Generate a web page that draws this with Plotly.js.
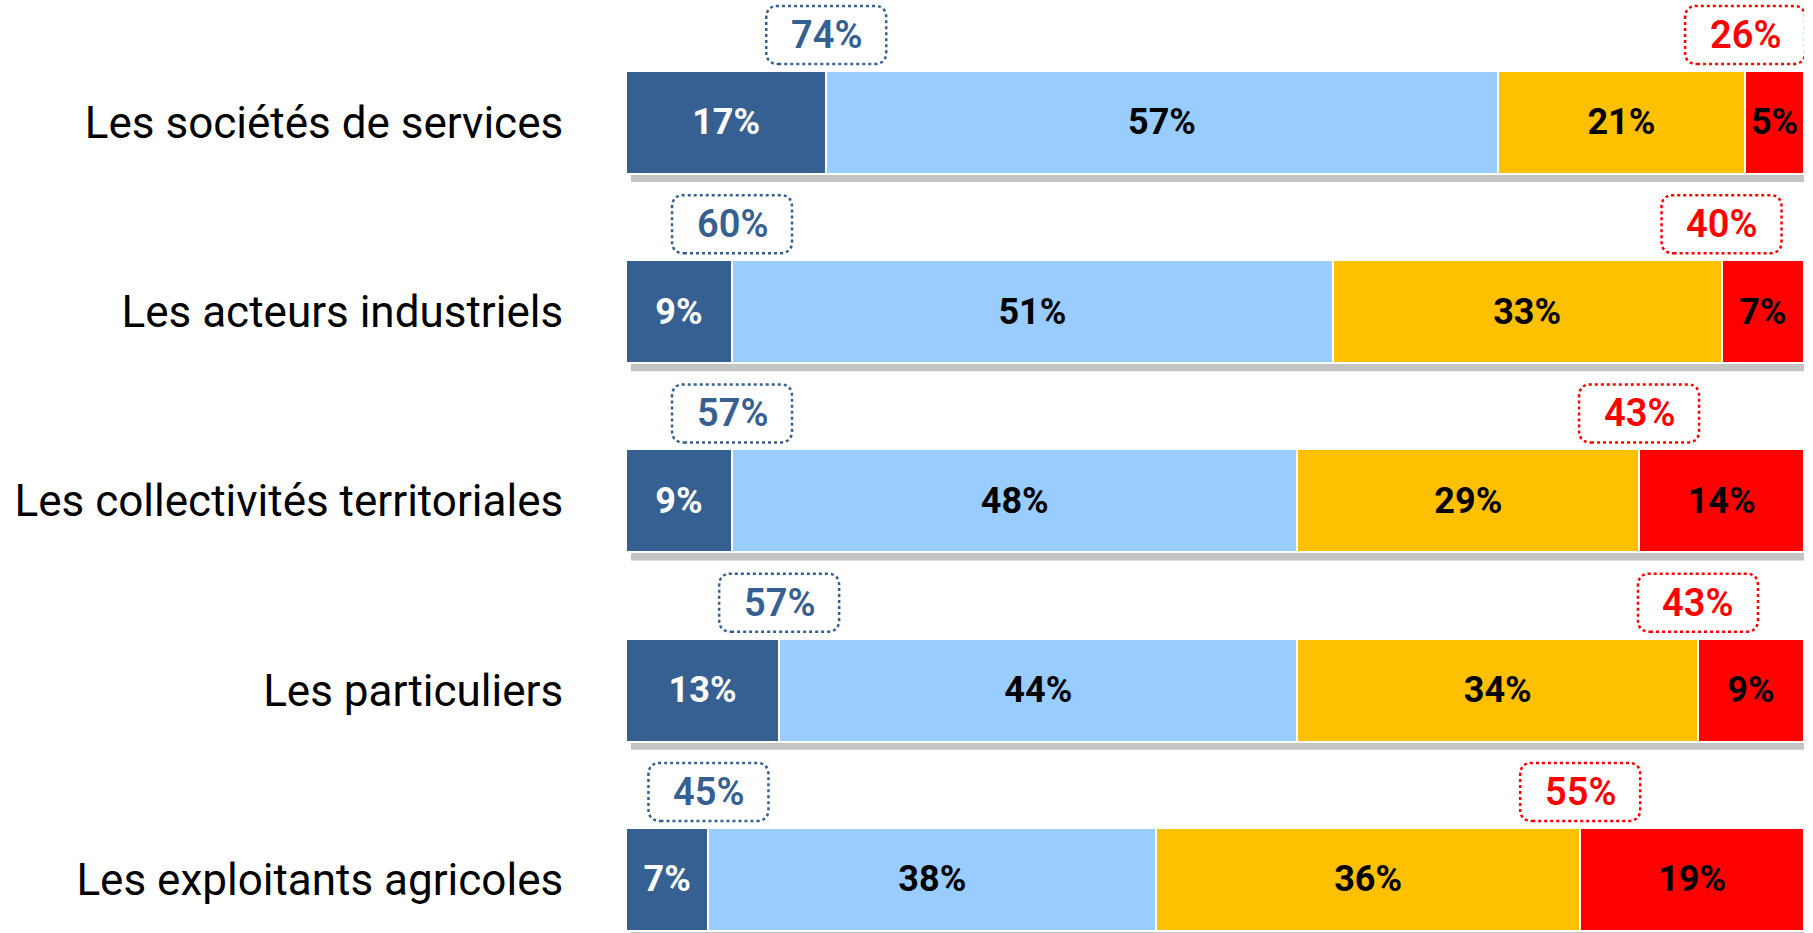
<!DOCTYPE html>
<html><head><meta charset="utf-8">
<script src="https://cdn.plot.ly/plotly-3.0.1.min.js"></script>
<style>html,body{margin:0;padding:0;background:#fff}#chart{width:1813px;height:933px}</style>
</head><body><div id="chart"></div>
<script>
const categories = ["Les sociétés de services","Les acteurs industriels","Les collectivités territoriales","Les particuliers","Les exploitants agricoles"];
const seriesNames = ["Tout à fait","Plutôt","Plutôt pas","Pas du tout"];
const s1 = [17,9,9,13,7];
const s2 = [57,51,48,44,38];
const s3 = [21,33,29,34,36];
const s4 = [5,7,14,9,19];
const totalPositive = [74,60,57,57,45];
const totalNegative = [26,40,43,43,55];

const colors = ['#366092','#99CCFF','#FFC000','#FF0000'];
const textColors = ['#FFFFFF','#000000','#000000','#000000'];
const series = [s1,s2,s3,s4];
const idx = categories.map((c,i)=>i);

const traces = series.map((vals,k)=>({
  type:'bar', orientation:'h', name:seriesNames[k],
  x: vals, y: idx, width:0.544,
  marker:{color:colors[k], line:{color:'#FFFFFF', width:2}},
  text: vals.map(v=>v+'%'), textposition:'inside', insidetextanchor:'middle',
  textangle:0, constraintext:'none', cliponaxis:false,
  textfont:{family:'Roboto, sans-serif', size:36, weight:'bold', color:textColors[k]},
  hoverinfo:'skip', showlegend:false
}));

function roundRect(w,h,r,dy){
  const x0=-w/2,x1=w/2,y0=dy-h/2,y1=dy+h/2;
  return `M ${x0+r},${y0} L ${x1-r},${y0} Q ${x1},${y0} ${x1},${y0+r} L ${x1},${y1-r} Q ${x1},${y1} ${x1-r},${y1} L ${x0+r},${y1} Q ${x0},${y1} ${x0},${y1-r} L ${x0},${y0+r} Q ${x0},${y0} ${x0+r},${y0} Z`;
}

const shapes = [];
const annotations = [];
const boxDy = 87.5;
idx.forEach(i=>{
  // shadow
  shapes.push({type:'rect', layer:'below', xref:'x', yref:'y',
    xsizemode:'pixel', xanchor:0, x0:5, x1:1184,
    ysizemode:'pixel', yanchor:i, y0:-59.5, y1:43.5,
    fillcolor:'#C4C4C4', line:{width:0}});
  const posX = s1[i];
  const negX = 100 - s4[i];
  [[posX,'#366092',totalPositive[i]],[negX,'#FF0000',totalNegative[i]]].forEach(([xv,col,val])=>{
    shapes.push({type:'path', xref:'x', yref:'y',
      xsizemode:'pixel', xanchor:xv, ysizemode:'pixel', yanchor:i,
      path: roundRect(120,58,12,boxDy),
      line:{color:col, width:2.5, dash:'dot'}, fillcolor:'rgba(0,0,0,0)'});
    annotations.push({xref:'x', yref:'y', x:xv, y:i, yshift:boxDy,
      text: val+'%', showarrow:false,
      font:{family:'Roboto, sans-serif', size:38, weight:600, color:col}});
  });
});

const layout = {
  width:1813, height:933,
  margin:{l:626, r:9, t:0, b:0},
  barmode:'stack', bargap:0,
  paper_bgcolor:'#FFFFFF', plot_bgcolor:'#FFFFFF',
  uniformtext:{mode:'show', minsize:36},
  xaxis:{range:[0,100], visible:false, fixedrange:true},
  yaxis:{range:[4.283,-0.647], tickvals:idx, ticktext:categories,
    showgrid:false, zeroline:false, showline:false,
    ticks:'outside', ticklen:0, tickcolor:'#FFFFFF', ticklabelstandoff:53,
    tickfont:{family:'Roboto, sans-serif', size:44, color:'#000000'}, fixedrange:true},
  shapes:shapes, annotations:annotations, showlegend:false
};
Plotly.newPlot('chart', traces, layout, {displayModeBar:false, staticPlot:true});
</script></body></html>
